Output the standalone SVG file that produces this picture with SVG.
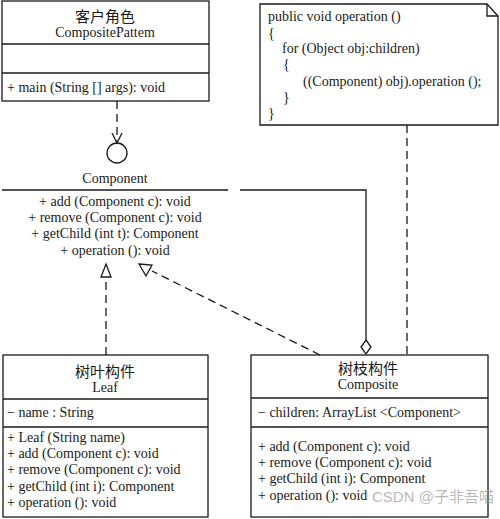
<svg xmlns="http://www.w3.org/2000/svg" width="500" height="519" viewBox="0 0 500 519">
<style>
.box{fill:#fff;stroke:#1a1a1a;stroke-width:1.3}
.ln{stroke:#1a1a1a;stroke-width:1.3;fill:none}
.dash{stroke:#1a1a1a;stroke-width:1.3;fill:none;stroke-dasharray:8,5}
text{font-family:"Liberation Serif","Noto Sans CJK SC",serif;font-size:14px;fill:#1a1a1a}
.cn{font-size:15px}
.c{text-anchor:middle}
.wm{font-family:"Liberation Sans","Noto Sans CJK SC",sans-serif;font-size:15px;fill:#9a9a9a;fill-opacity:0.7}
</style>
<g id="connectors">
<path class="dash" d="M117,101 V141"/>
<path class="ln" d="M112,133 L117,143 L122,133"/>
<path class="ln" d="M240,190 H366 V340"/>
<path class="ln" d="M366,340 L371,347 L366,354 L361,347 Z" fill="#fff"/>
<path class="dash" d="M106,355 V277"/>
<path class="ln" d="M106,264 L111,277 L101,277 Z" fill="#fff"/>
<path class="dash" d="M320,355 L152,271"/>
<path class="ln" d="M139,264 L152,265 L146,276 Z" fill="#fff"/>
<path class="dash" d="M407,125 V355"/>
</g>
<g id="client">
<rect class="box" x="2" y="1" width="207" height="100"/>
<line class="ln" x1="2" y1="44" x2="209" y2="44"/>
<line class="ln" x1="2" y1="73" x2="209" y2="73"/>
<text class="c cn" x="105" y="22">客户角色</text>
<text class="c" x="105" y="37">CompositePattem</text>
<text x="7" y="92">+ main (String [] args): void</text>
</g>
<g id="component">
<circle class="ln" cx="117" cy="153" r="10" fill="#fff"/>
<text class="c" x="115" y="183">Component</text>
<line class="ln" x1="2" y1="190" x2="228" y2="190"/>
<text class="c" x="115" y="206">+ add (Component c): void</text>
<text class="c" x="115" y="222">+ remove (Component c): void</text>
<text class="c" x="115" y="238">+ getChild (int t): Component</text>
<text class="c" x="115" y="255">+ operation (): void</text>
</g>
<g id="note">
<path class="box" d="M260,4 H487 L498,16 V125 H260 Z"/>
<path class="ln" d="M487,4 V16 H498"/>
<text x="268" y="21">public void operation ()</text>
<text x="268" y="38">{</text>
<text x="282" y="53">for (Object obj:children)</text>
<text x="283" y="69">{</text>
<text x="303" y="86">((Component) obj).operation ();</text>
<text x="283" y="102">}</text>
<text x="268" y="118">}</text>
</g>
<g id="leaf">
<rect class="box" x="3" y="355" width="205" height="162"/>
<line class="ln" x1="3" y1="399" x2="208" y2="399"/>
<line class="ln" x1="3" y1="427" x2="208" y2="427"/>
<text class="c cn" x="105" y="377">树叶构件</text>
<text class="c" x="105" y="392">Leaf</text>
<text x="7" y="417">− name : String</text>
<text x="7" y="442">+ Leaf (String name)</text>
<text x="7" y="458">+ add (Component c): void</text>
<text x="7" y="474">+ remove (Component c): void</text>
<text x="7" y="491">+ getChild (int i): Component</text>
<text x="7" y="507">+ operation (): void</text>
</g>
<g id="composite">
<rect class="box" x="251" y="355" width="237" height="162"/>
<line class="ln" x1="251" y1="398" x2="488" y2="398"/>
<line class="ln" x1="251" y1="427" x2="488" y2="427"/>
<text class="c cn" x="368" y="374">树枝构件</text>
<text class="c" x="368" y="389">Composite</text>
<text x="258" y="417">− children: ArrayList &lt;Component&gt;</text>
<text x="258" y="451">+ add (Component c): void</text>
<text x="258" y="467">+ remove (Component c): void</text>
<text x="258" y="483">+ getChild (int i): Component</text>
<text x="258" y="500">+ operation (): void</text>
</g>
<text class="wm" x="372" y="502">CSDN @子非吾喵</text>
</svg>
